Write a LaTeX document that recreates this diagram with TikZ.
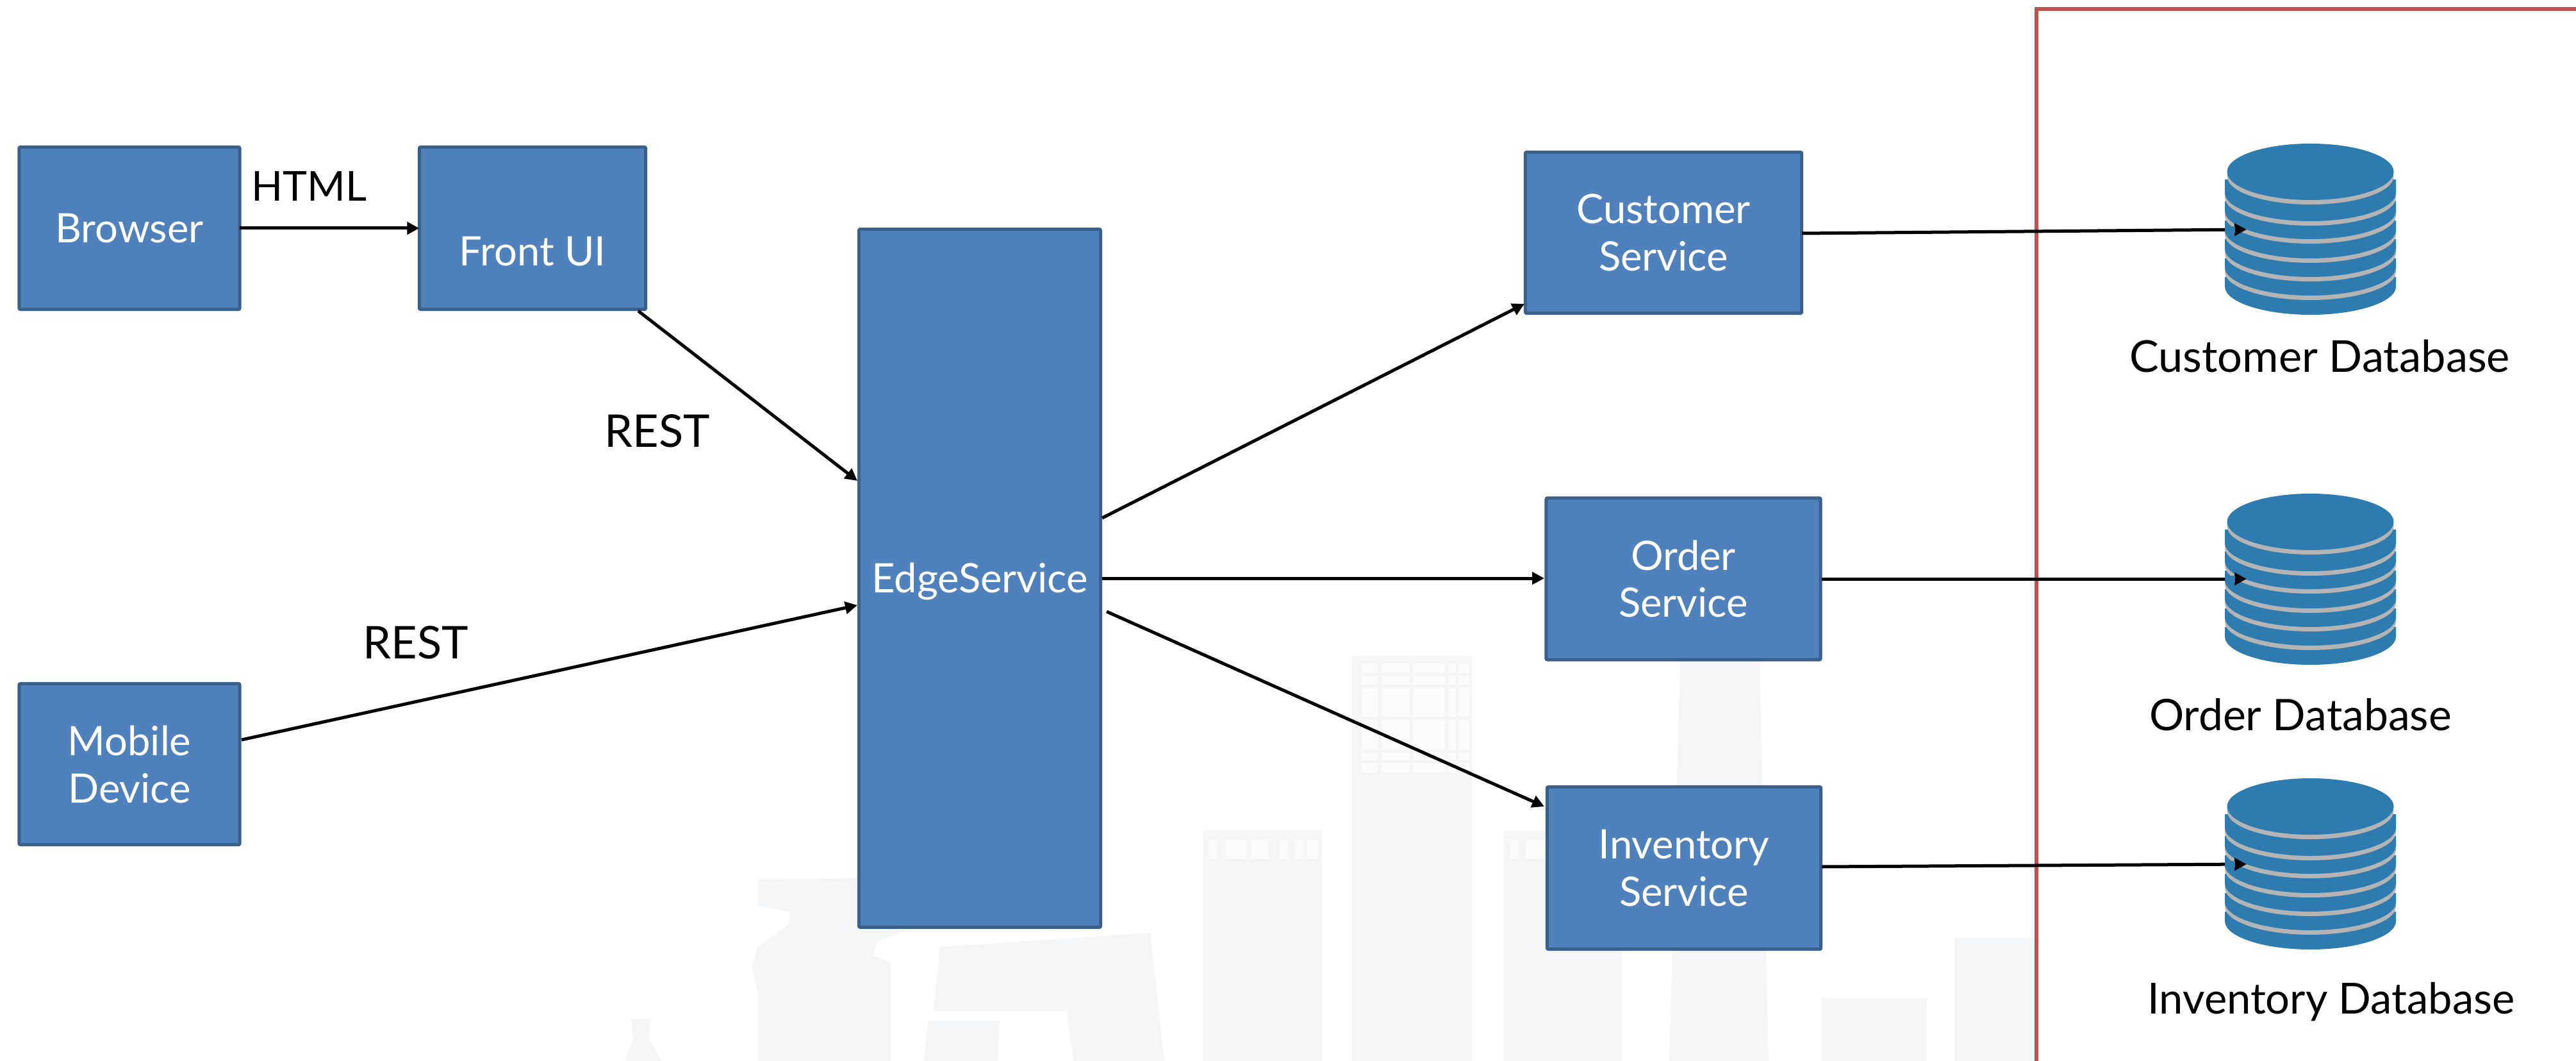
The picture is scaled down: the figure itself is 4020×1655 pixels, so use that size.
\documentclass[tikz,border=0pt]{standalone}
\usepackage{fontspec}
\setmainfont{Lato}
\usetikzlibrary{arrows.meta}
\definecolor{svcfill}{HTML}{4F81BD}
\definecolor{svcline}{HTML}{3A5F8B}
\definecolor{dbblue}{HTML}{2E7BAF}
\definecolor{dbgrey}{HTML}{B4B4B4}
\definecolor{skycol}{HTML}{F5F6F8}
\definecolor{skycell}{HTML}{FCFCFD}
\definecolor{framered}{HTML}{C0504D}
\tikzset{
  svcbox/.style={draw=svcline,fill=svcfill,line width=0.05cm,rounded corners=0.02cm,inner sep=0,outer sep=0,
    text=white,align=center,font=\fontsize{18}{21}\selectfont},
  caption/.style={font=\fontsize{#1}{21}\selectfont,inner sep=0},
  link/.style={line width=0.05cm,-{Triangle[length=0.19cm,width=0.19cm]}},
  skyline/.style={fill=skycol}
}
% one stack of discs, #1 is its top left corner
\newcommand{\dbstack}[1]{
  \begin{scope}[shift={(#1)}]
    \fill[dbblue] (0,209) -- (0,224) .. controls (0,248) and (60,268) .. (133.5,268)
       .. controls (207,268) and (267,248) .. (267,224) -- (267,209) -- cycle;
    \foreach \t/\b in {180/238,150/209,121/180,91/150,57/122}{
      \fill[dbgrey] (0,\t+7) -- (0,\b-37) .. controls (0,\b-13) and (60,\b+7) .. (133.5,\b+7)
         .. controls (207,\b+7) and (267,\b-13) .. (267,\b-37) -- (267,\t+7) -- cycle;
      \fill[dbblue] (0,\t) -- (0,\b-44) .. controls (0,\b-20) and (60,\b) .. (133.5,\b)
         .. controls (207,\b) and (267,\b-20) .. (267,\b-44) -- (267,\t) -- cycle;
    }
    \fill[dbgrey] (133.5,52) ellipse[x radius=130,y radius=44];
    \fill[dbblue] (133.5,45) ellipse[x radius=130,y radius=44];
  \end{scope}
}
\begin{document}
\begin{tikzpicture}[x=0.01cm,y=-0.01cm]
  \useasboundingbox (0,0) rectangle (4020,1655);

  % skyline behind everything
  \fill[skyline] (1183,1372) -- (1338,1370) -- (1420,1449) -- (1370,1468) -- (1362,1490) -- (1390,1502) -- (1390,1655)
     -- (1183,1655) -- (1183,1550) -- (1173,1507) -- (1183,1477) -- (1230,1443) -- (1233,1423) -- (1183,1413) -- cycle;
  \fill[skyline] (985,1590) -- (1015,1590) -- (1012,1620) -- (1033,1655) -- (975,1655) -- (988,1620) -- cycle;
  \fill[skyline] (1467,1477) -- (1795,1455) -- (1817,1655) -- (1675,1655) -- (1665,1577) -- (1457,1577) -- cycle;
  \fill[skyline] (1448,1592) -- (1560,1592) -- (1557,1655) -- (1442,1655) -- cycle;
  \fill[skyline] (1878,1295) rectangle (2063,1655);
  \fill[skyline] (2110,1023) rectangle (2297,1655);
  \fill[skyline] (2347,1296) rectangle (2531,1655);
  \fill[skyline] (2623,1000) -- (2745,1000) -- (2760,1655) -- (2605,1655) -- cycle;
  \fill[skyline] (2843,1557) rectangle (3007,1655);
  \fill[skyline] (3050,1463) rectangle (3175,1655);
  \foreach \xa/\xb in {2125/2150,2156/2200,2205/2255,2260/2272,2276/2293}
    \foreach \ya/\yb in {1035/1050,1055/1068,1073/1118,1123/1170,1175/1186,1190/1205}
      \fill[skycell] (\xa,\ya) rectangle (\xb,\yb);
  \foreach \bx in {1878,2347}
    \foreach \wa/\wb in {9/22,34/67,75/102,119/132,142/155,162/179}
      \fill[skycell] (\bx+\wa,1310) rectangle (\bx+\wb,1340);

  \draw[framered,line width=0.053cm] (3178,1655) -- (3178,14) -- (4020,14);

  \draw (202,356) node[svcbox,minimum width=3.44cm,minimum height=2.53cm] (browser) {Browser};
  \draw (831,356) node[svcbox,minimum width=3.53cm,minimum height=2.53cm] (frontui) {\raisebox{-0.58cm}[0pt][0pt]{Front UI}};
  \draw (202,1192) node[svcbox,minimum width=3.44cm,minimum height=2.51cm] (mobile) {Mobile\\Device};
  \draw (1529,902) node[svcbox,minimum width=3.77cm,minimum height=10.88cm] (edge) {\raisebox{-0.22cm}[0pt][0pt]{EdgeService}};
  \draw (2596,363) node[svcbox,minimum width=4.31cm,minimum height=2.51cm] (customer) {Customer\\Service};
  \draw (2627,903) node[svcbox,minimum width=4.28cm,minimum height=2.52cm] (order) {Order\\Service};
  \draw (2628,1354) node[svcbox,minimum width=4.27cm,minimum height=2.53cm] (inventory) {Inventory\\Service};

  \dbstack{3472,223}
  \dbstack{3472,769}
  \dbstack{3472,1213}

  \draw (482,290) node[caption=18.3] (html) {HTML};
  \draw (1026,672) node[caption=20] (rest1) {REST};
  \draw (649,1002) node[caption=20] (rest2) {REST};
  \draw (3620,556) node[caption=19.5] (customerdb) {Customer Database};
  \draw (3590,1115) node[caption=19.3] (orderdb) {Order Database};
  \draw (3638,1563) node[caption=19] (inventorydb) {Inventory Database};

  \coordinate (frontout) at (996,485);
  \coordinate (edgein1) at (1338,750);
  \coordinate (mobileout) at (377,1154);
  \coordinate (edgein2) at (1338,944);
  \coordinate (edgeout1) at (1720,808);
  \coordinate (customerin) at (2379,474);
  \coordinate (edgeout2) at (1720,902);
  \coordinate (orderin) at (2410,902);
  \coordinate (edgeout3) at (1727,954);
  \coordinate (inventoryin) at (2410,1258);
  \coordinate (customerout) at (2812,364);
  \coordinate (customertip) at (3506,358);
  \coordinate (orderout) at (2843,903);
  \coordinate (ordertip) at (3506,903);
  \coordinate (inventoryout) at (2843,1352);
  \coordinate (inventorytip) at (3506,1348);

  \path[link] (browser) edge (frontui);
  \path[link] (frontout) edge (edgein1);
  \path[link] (mobileout) edge (edgein2);
  \path[link] (edgeout1) edge (customerin);
  \path[link] (edgeout2) edge (orderin);
  \path[link] (edgeout3) edge (inventoryin);
  \path[link] (customerout) edge (customertip);
  \path[link] (orderout) edge (ordertip);
  \path[link] (inventoryout) edge (inventorytip);

  % the lines go behind the discs, only the tips show
  \foreach \py in {358,903,1348}
    \fill[dbblue] (3472,\py-5) rectangle (3488,\py+5);
\end{tikzpicture}
\end{document}
